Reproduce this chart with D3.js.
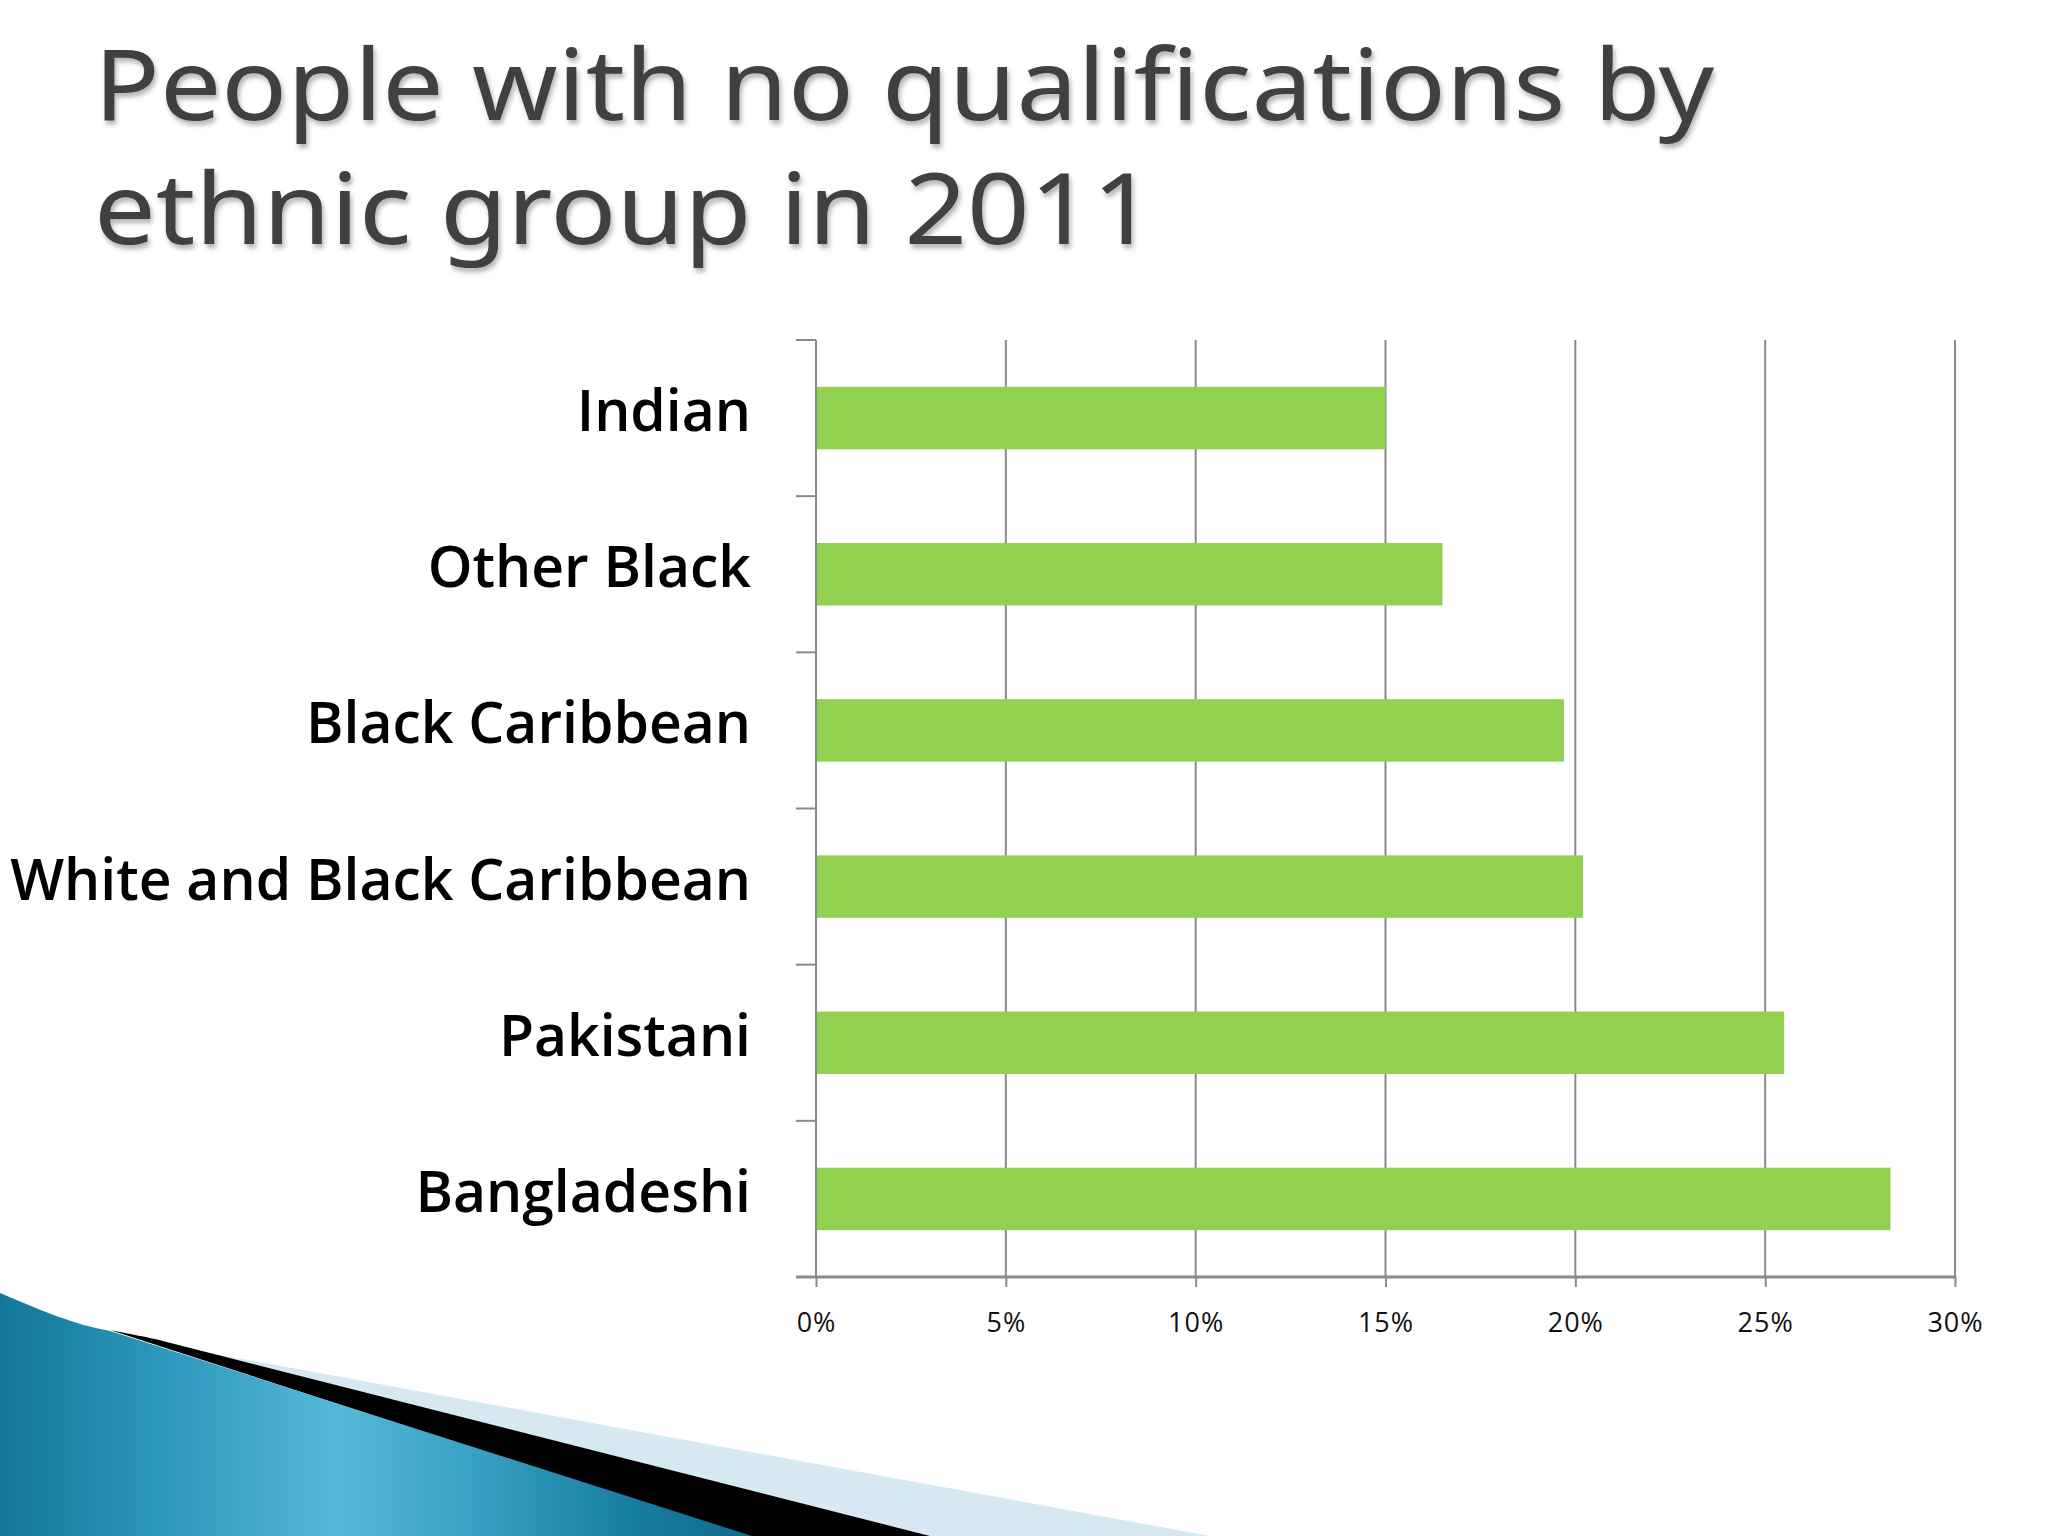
<!DOCTYPE html>
<html>
<head>
<meta charset="utf-8">
<script src="https://cdn.jsdelivr.net/npm/d3@7"></script>
<style>
  html, body { margin: 0; padding: 0; background: #fff; }
  svg { display: block; }
</style>
</head>
<body>
<div id="chart"></div>
<script>
// data
const titleLines = ['People with no qualifications by', 'ethnic group in 2011'];
const groups = ['Indian', 'Other Black', 'Black Caribbean', 'White and Black Caribbean', 'Pakistani', 'Bangladeshi'];
const noQualPct = [15.0, 16.5, 19.7, 20.2, 25.5, 28.3];
const pctTicks = [0, 5, 10, 15, 20, 25, 30];

const W = 2048, H = 1536;
const plot = { left: 816, right: 1955, top: 340, bottom: 1277 };

const svg = d3.create('svg')
  .attr('width', W)
  .attr('height', H);

const defs = svg.append('defs');

const shadow = defs.append('filter')
  .attr('id', 'tshadow')
  .attr('x', '-5%').attr('y', '-20%')
  .attr('width', '110%').attr('height', '150%');
shadow.append('feDropShadow')
  .attr('dx', 2).attr('dy', 4)
  .attr('stdDeviation', 2.5)
  .attr('flood-color', '#000')
  .attr('flood-opacity', 0.3);

const blueGrad = defs.append('linearGradient')
  .attr('id', 'blueGrad')
  .attr('x1', '0%').attr('y1', '0%')
  .attr('x2', '100%').attr('y2', '0%');
[['0%', '#13779a'], ['20%', '#2a95ba'], ['45%', '#56b8d8'], ['62%', '#3aa2c6'], ['85%', '#167c9f'], ['100%', '#0f6c8c']]
  .forEach(([o, c]) => blueGrad.append('stop').attr('offset', o).attr('stop-color', c));

// bottom-left swoosh decoration
const deco = svg.append('g');
deco.append('path')
  .attr('d', 'M 166 1345 L 1210 1536 L 900 1536 L 150 1338 Z')
  .attr('fill', '#d6e8f1');
deco.append('path')
  .attr('d', 'M 110 1330 C 130 1334 145 1337 155 1339 L 930 1536 L 745 1536 Z')
  .attr('fill', '#000');
deco.append('path')
  .attr('d', 'M 0 1293 C 40 1310 75 1325 110 1331 L 752 1536 L 0 1536 Z')
  .attr('fill', 'url(#blueGrad)');

// title
const title = svg.append('g')
  .attr('filter', 'url(#tshadow)');
const titleWidths = [1620, 1061];
const titleBaselines = [120, 244];
titleLines.forEach((t, i) => {
  title.append('text')
    .attr('x', 94)
    .attr('y', titleBaselines[i])
    .attr('textLength', titleWidths[i])
    .attr('lengthAdjust', 'spacingAndGlyphs')
    .attr('font-family', '"Noto Sans", "Open Sans", sans-serif')
    .attr('font-size', 98)
    .attr('fill', '#3f3f3f')
    .text(t);
});

// scales
const x = d3.scaleLinear()
  .domain([0, 30])
  .range([plot.left, plot.right]);

const y = d3.scaleBand()
  .domain(groups)
  .range([plot.top, plot.bottom])
  .paddingInner(0.6)
  .paddingOuter(0.3);

const gridColor = '#8a8a8a';

// vertical gridlines
svg.append('g')
  .selectAll('line')
  .data(pctTicks)
  .join('line')
    .attr('x1', d => x(d)).attr('x2', d => x(d))
    .attr('y1', plot.top).attr('y2', plot.bottom)
    .attr('stroke', gridColor)
    .attr('stroke-width', 2);

// category tick marks on the left axis (at band boundaries)
const boundaries = d3.range(groups.length + 1).map(i => plot.top + i * y.step());
svg.append('g')
  .selectAll('line')
  .data(boundaries)
  .join('line')
    .attr('x1', plot.left - 20).attr('x2', plot.left)
    .attr('y1', d => d).attr('y2', d => d)
    .attr('stroke', gridColor)
    .attr('stroke-width', 2);

// bars
const rows = groups.map((g, i) => ({ group: g, value: noQualPct[i] }));
svg.append('g')
  .selectAll('rect')
  .data(rows)
  .join('rect')
    .attr('x', x(0) + 1)
    .attr('y', d => y(d.group))
    .attr('width', d => x(d.value) - x(0) - 1)
    .attr('height', y.bandwidth())
    .attr('fill', '#92d050');

// bottom axis
const xAxis = svg.append('g')
  .attr('transform', `translate(0,${plot.bottom})`)
  .call(d3.axisBottom(x)
    .tickValues(pctTicks)
    .tickFormat(d => d + '%')
    .tickSize(10)
    .tickSizeOuter(0)
    .tickPadding(26));
xAxis.select('.domain').remove();
xAxis.selectAll('.tick line')
  .attr('stroke', gridColor)
  .attr('stroke-width', 2);
xAxis.selectAll('.tick text')
  .attr('font-family', '"Open Sans", sans-serif')
  .attr('font-size', 27)
  .attr('letter-spacing', 1)
  .attr('fill', '#111');
svg.append('line')
  .attr('x1', plot.left - 20).attr('x2', plot.right + 1)
  .attr('y1', plot.bottom).attr('y2', plot.bottom)
  .attr('stroke', gridColor)
  .attr('stroke-width', 3);

// category labels
svg.append('g')
  .selectAll('text')
  .data(groups)
  .join('text')
    .attr('x', 751)
    .attr('y', d => y(d) + y.bandwidth() / 2 + 13)
    .attr('text-anchor', 'end')
    .attr('font-family', '"Open Sans", sans-serif')
    .attr('font-weight', 600)
    .attr('font-size', 57)
    .attr('fill', '#000')
    .text(d => d);

d3.select('#chart').node().appendChild(svg.node());
</script>
</body>
</html>
